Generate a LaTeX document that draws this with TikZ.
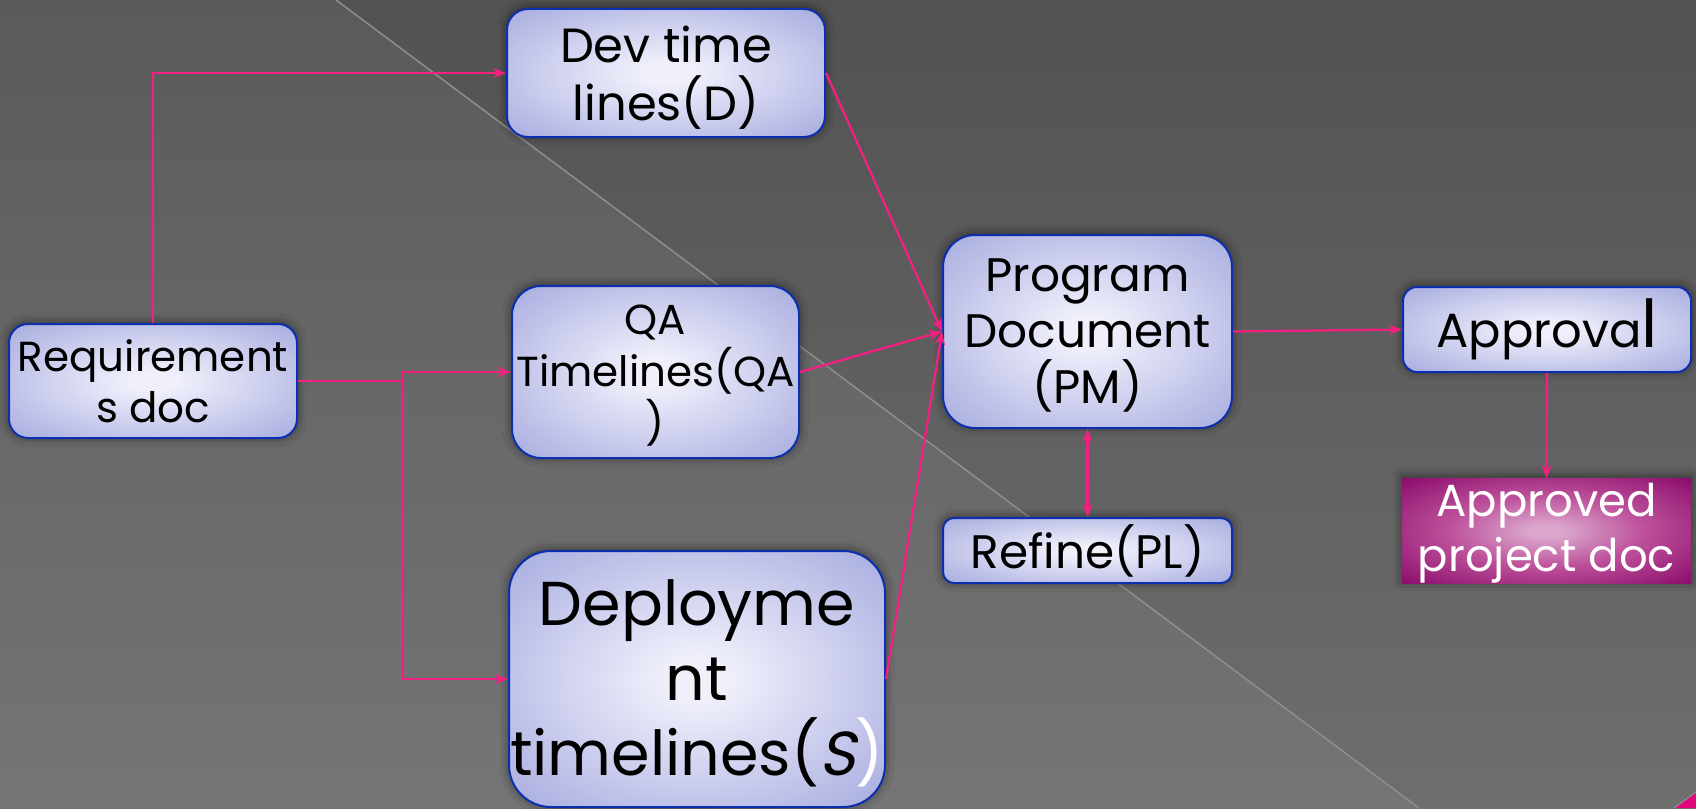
\documentclass[tikz,border=0pt]{standalone}
\usepackage{fontspec}
\setmainfont{Poppins}
\newfontfamily\slantface[FakeSlant=0.2]{Poppins}
\usetikzlibrary{arrows.meta,shadows.blur}

\definecolor{bgtop}{HTML}{525252}
\definecolor{bgbot}{HTML}{6E6E6E}
\definecolor{diag}{HTML}{8E8E8E}
\definecolor{flow}{HTML}{F2207F}
\definecolor{boxedge}{HTML}{0B2FAE}
\definecolor{boxin}{HTML}{F0F0FB}
\definecolor{boxmid}{HTML}{D2D4F0}
\definecolor{boxout}{HTML}{A8ADDF}
\definecolor{boxrim}{HTML}{9CA1D9}
\definecolor{magin}{HTML}{DBA6CC}
\definecolor{magmid}{HTML}{BC509A}
\definecolor{magout}{HTML}{8C0E6D}
\definecolor{magrim}{HTML}{7A0560}
\definecolor{cornerpink}{HTML}{E2077C}

\pgfdeclareradialshading{boxglow}{\pgfpoint{0bp}{0bp}}{%
  color(0bp)=(boxin); color(4bp)=(boxin); color(17bp)=(boxmid); color(35bp)=(boxout); color(50bp)=(boxrim)}
\pgfdeclareradialshading{magglow}{\pgfpoint{0bp}{0bp}}{%
  color(0bp)=(magin); color(3bp)=(magin); color(17bp)=(magmid); color(35bp)=(magout); color(50bp)=(magrim)}

\tikzset{
  stepbox/.style={draw=boxedge, line width=2pt, shade, shading=boxglow,
    align=center, inner sep=0pt,
    blur shadow={shadow xshift=0pt, shadow yshift=1pt, shadow blur radius=9pt, shadow opacity=55}},
  donebox/.style={shade, shading=magglow, align=center, inner sep=0pt, text=white,
    blur shadow={shadow xshift=0pt, shadow yshift=2pt, shadow blur radius=9pt, shadow opacity=55}},
  flowline/.style={draw=flow, line width=2.3pt, -{Stealth[length=13pt,width=10pt,inset=4pt]}},
  bothline/.style={draw=flow, line width=2.3pt,
    {Stealth[length=13pt,width=10pt,inset=4pt]}-{Stealth[length=13pt,width=10pt,inset=4pt]}},
  plainline/.style={draw=flow, line width=2.3pt},
}

\begin{document}
\begin{tikzpicture}[x=1pt,y=-1pt]
\useasboundingbox (0,0) rectangle (1696,808);
% backdrop: vertical fade, lighter lower-left half, thin diagonal rule
\shade[top color=bgtop, bottom color=bgbot] (0,0) rectangle (1696,808);
\fill[white, opacity=0.05] (0,0) -- (336,0) -- (1419,808) -- (0,808) -- cycle;
\draw[diag, line width=1.5pt] (336,0) -- (1419,808);
\fill[cornerpink] (1674,808) -- (1696,808) -- (1696,792) -- cycle;
\draw[diag, line width=1.2pt] (1674,808) -- (1696,792);

% boxes
\node[stepbox, rounded corners=19pt, minimum width=288pt, minimum height=114pt,
  font=\fontsize{42}{51}\selectfont] (req) at (153,381) {Requirement\\s doc};
\node[stepbox, rounded corners=21pt, minimum width=318pt, minimum height=128pt,
  font=\fontsize{48}{58}\selectfont] (dev) at (666,73) {\rule{0pt}{45pt}Dev time\\lines(D)};
\node[stepbox, rounded corners=29pt, minimum width=287pt, minimum height=172pt,
  font=\fontsize{42}{52}\selectfont] (qa) at (655.5,372) {\rule{0pt}{36pt}QA\\Timelines(QA\\)};
\node[stepbox, rounded corners=42pt, minimum width=376pt, minimum height=256pt,
  font=\fontsize{62}{75}\selectfont] (dep) at (697,679)
  {\rule{0pt}{54pt}Deployme\\nt\\timelines({\slantface S}\textcolor{white}{)}};
\node[stepbox, rounded corners=32pt, minimum width=289pt, minimum height=193pt,
  font=\fontsize{47}{56}\selectfont] (pd) at (1087.5,331.5) {\rule{0pt}{40pt}Program\\Document\\(PM)};
\node[stepbox, rounded corners=11pt, minimum width=289pt, minimum height=65pt,
  font=\fontsize{47}{56}\selectfont] (ref) at (1087.5,550.5) {Refine(PL)};
\node[stepbox, rounded corners=14pt, minimum width=288pt, minimum height=85pt,
  font=\fontsize{48}{58}\selectfont] (app) at (1547,329.5)
  {Approva{\fontsize{66}{70}\selectfont l}};
\node[donebox, minimum width=289pt, minimum height=104pt,
  font=\fontsize{45}{55}\selectfont] (apd) at (1546.5,531) {\rule{0pt}{38pt}Approved\\project doc};

% connectors
\coordinate (split) at (403,381);
\draw[flowline] (req.north) |- (dev.west);
\draw[plainline] (req.east) -- (split);
\draw[flowline] (split) |- (qa.west);
\draw[flowline] (split) |- (dep.west);
\draw[flowline] (dev.east) -- (pd.west);
\draw[flowline] (qa.east) -- (pd.west);
\draw[flowline] (dep.east) -- (pd.west);
\draw[flowline] (pd.east) -- (app.west);
\draw[bothline] (pd.south) -- (ref.north);
\draw[flowline] (app.south) -- (apd.north);
\end{tikzpicture}
\end{document}
